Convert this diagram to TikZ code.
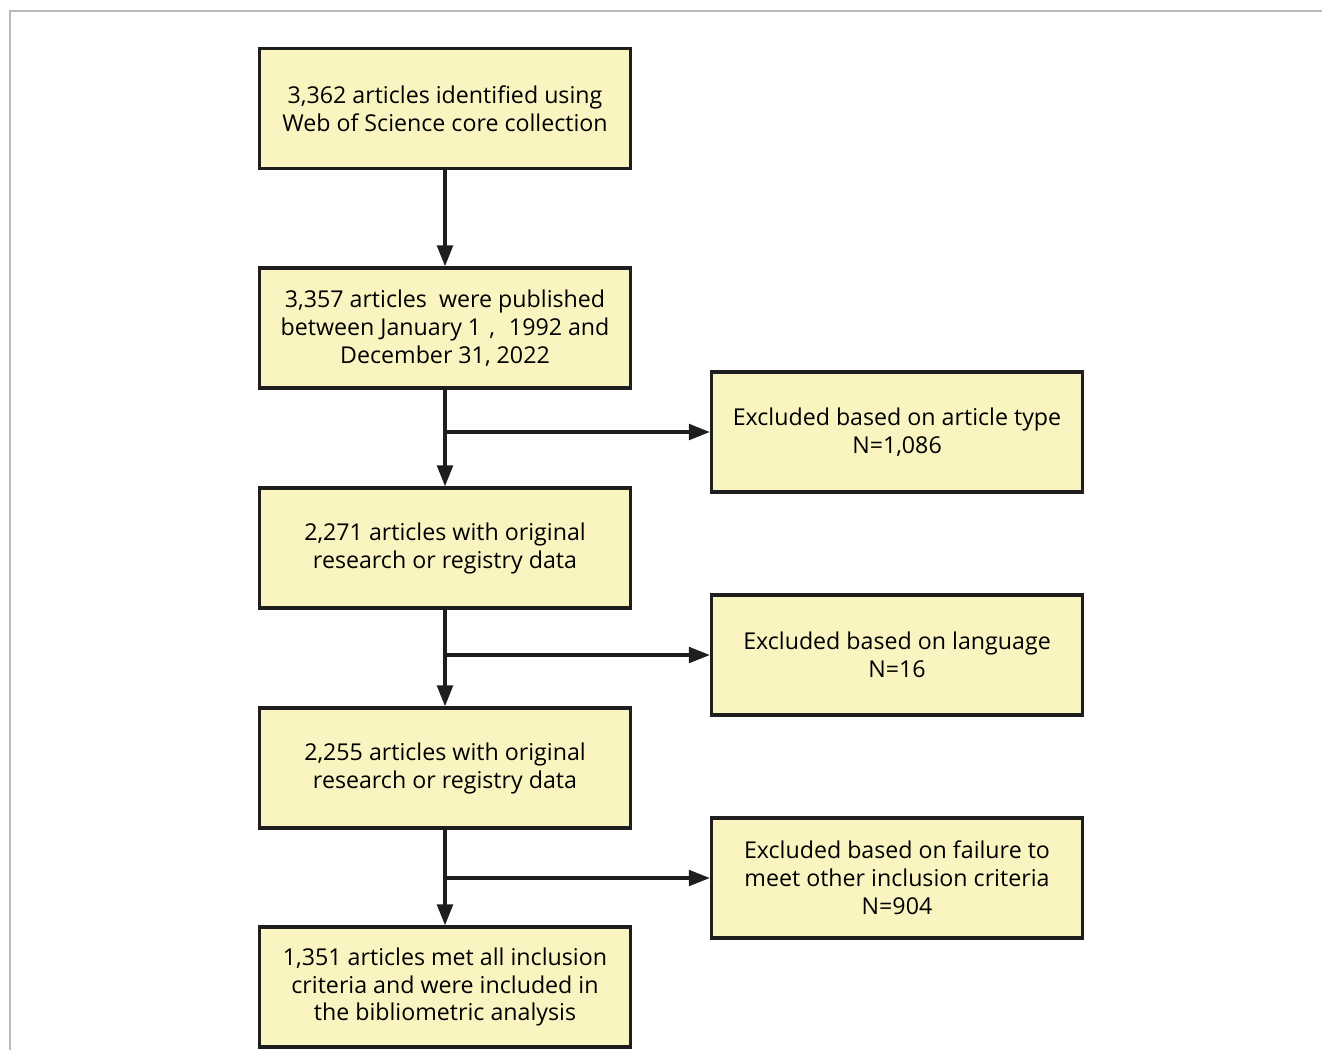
\documentclass[tikz,border=0pt]{standalone}
\usepackage{fontspec}
\setmainfont{Open Sans}
\usetikzlibrary{arrows.meta}
\definecolor{boxfill}{RGB}{250,245,192}
\definecolor{boxline}{RGB}{30,30,30}
\tikzset{
  flowbox/.style={draw=boxline, fill=boxfill, line width=1.9pt, align=center,
    minimum width=7.42cm, minimum height=2.4cm, inner sep=2pt,
    font=\fontsize{13.2}{15.9}\selectfont},
  flowarrow/.style={draw=boxline, line width=1.8pt, -{Triangle[length=12pt,width=9pt]}}
}
\newcommand{\flowbox}[3]{%
 \node[flowbox] ({#1}) at ({#2}) {#3};%
}

\begin{document}
\begin{tikzpicture}
  \useasboundingbox (0,0) rectangle (26.44,-21);
  \draw[gray!55, line width=1.1pt] (0.2,-21) -- (0.2,-0.22) -- (26.44,-0.22);
  % main column
  \flowbox{b1}{8.9,-2.17}{3,362 articles identified using\\Web of Science core collection}
  \flowbox{b2}{8.9,-6.56}{3,357 articles\ \ were published\\between January 1\hspace{0.35em},\hspace{0.6em}1992 and\\December 31, 2022}
  \flowbox{b3}{8.9,-10.96}{2,271 articles with original\\research or registry data}
  \flowbox{b4}{8.9,-15.36}{2,255 articles with original\\research or registry data}
  \flowbox{b5}{8.9,-19.74}{1,351 articles met all inclusion\\criteria and were included in\\the bibliometric analysis}
  % exclusions
  \flowbox{r1}{17.94,-8.64}{Excluded based on article type\\N=1,086}
  \flowbox{r2}{17.94,-13.1}{Excluded based on language\\N=16}
  \flowbox{r3}{17.94,-17.56}{Excluded based on failure to\\meet other inclusion criteria\\N=904}
  \coordinate (j1) at (b2.south |- r1.west);
  \coordinate (j2) at (b3.south |- r2.west);
  \coordinate (j3) at (b4.south |- r3.west);
  \path[flowarrow] (b1) -- (b2);
  \path[flowarrow] (b2) -- (b3);
  \path[flowarrow] (b3) -- (b4);
  \path[flowarrow] (b4) -- (b5);
  \path[flowarrow] (j1) -- (r1);
  \path[flowarrow] (j2) -- (r2);
  \path[flowarrow] (j3) -- (r3);
\end{tikzpicture}
\end{document}
